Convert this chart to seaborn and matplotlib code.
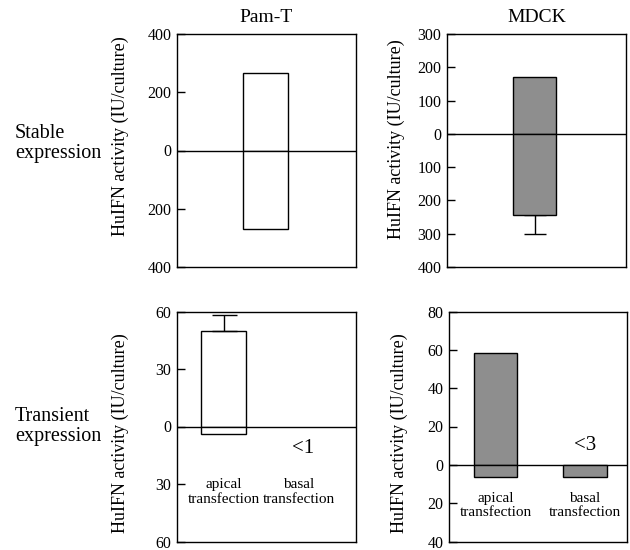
import matplotlib
matplotlib.use("Agg")
import matplotlib.pyplot as plt
import seaborn as sns
import pandas as pd

sns.set_theme(style="white")
plt.rcParams["font.family"] = ["Liberation Serif", "DejaVu Serif"]
plt.rcParams["text.color"] = "black"
plt.rcParams["axes.labelcolor"] = "black"
plt.rcParams["xtick.color"] = "black"
plt.rcParams["ytick.color"] = "black"

# ---------------- data ----------------
cell_lines = ["Pam-T", "MDCK"]
row_labels = ["Stable\nexpression", "Transient\nexpression"]
ylabel = "HuIFN activity (IU/culture)"

# Stable expression: apical secretion (up), basal secretion (down)
stable_category = ["stable"]
stable_apical = [265, 170]
stable_basal = [270, 243]
stable_basal_err = [0, 57]

# Transient expression
transient_categories = ["apical\ntransfection", "basal\ntransfection"]
pamt_apical = [50]            # apical transfection only
pamt_apical_err = [8]
pamt_basal = [4]              # apical transfection only
mdck_apical = [58.5]          # apical transfection only
mdck_basal = [6.5, 6.5]       # both transfections
below_limit = ["<1", "<3"]

stable_ylims = [(-400, 400), (-400, 300)]
stable_ticks = [[-400, -200, 0, 200, 400],
                [-400, -300, -200, -100, 0, 100, 200, 300]]
transient_ylims = [(-60, 60), (-40, 80)]
transient_ticks = [[-60, -30, 0, 30, 60],
                   [-40, -20, 0, 20, 40, 60, 80]]

fills = ["white", "#8e8e8e"]

# ---------------- figure ----------------
fig = plt.figure(figsize=(6.3, 5.5), dpi=100)

pos = {
    (0, 0): [177 / 630, 1 - 267 / 550, 179 / 630, 233 / 550],
    (0, 1): [447 / 630, 1 - 267 / 550, 179 / 630, 233 / 550],
    (1, 0): [177 / 630, 1 - 541.5 / 550, 179 / 630, 230 / 550],
    (1, 1): [449.3 / 630, 1 - 541.5 / 550, 177.7 / 630, 230 / 550],
}
label_coords = {(0, 0): (-0.27, 0.56), (0, 1): (-0.235, 0.55),
                (1, 0): (-0.27, 0.47), (1, 1): (-0.235, 0.47)}


def style_axis(ax, ylim, ticks, key):
    ax.set_ylim(*ylim)
    ax.set_yticks(ticks)
    ax.set_yticklabels([str(abs(t)) for t in ticks])
    ax.set_xticks([])
    ax.set_xlabel("")
    ax.axhline(0, color="black", lw=1.0, zorder=1)
    ax.tick_params(axis="y", direction="in", length=6, width=1.0,
                   labelsize=11.5, pad=4, colors="black", left=True)
    for s in ax.spines.values():
        s.set_visible(True)
        s.set_color("black")
        s.set_linewidth(1.0)
    ax.set_ylabel(ylabel, fontsize=13, color="black")
    ax.yaxis.set_label_coords(*label_coords[key])


# Stable expression row
stable_xlims = [(-0.98, 1.005), (-1.03, 1.07)]
for j in range(2):
    ax = fig.add_axes(pos[(0, j)])
    up = pd.DataFrame({"cat": stable_category, "val": [stable_apical[j]]})
    dn = pd.DataFrame({"cat": stable_category, "val": [-stable_basal[j]]})
    for df in (up, dn):
        sns.barplot(data=df, x="cat", y="val", ax=ax, color=fills[j],
                    saturation=1, edgecolor="black", linewidth=1.0,
                    width=0.5, errorbar=None, zorder=2)
    if stable_basal_err[j] > 0:
        ax.errorbar([0], [-stable_basal[j]],
                    yerr=[[stable_basal_err[j]], [0]], fmt="none",
                    ecolor="black", elinewidth=1.0, capsize=8, capthick=1.0,
                    zorder=1)
    ax.set_xlim(*stable_xlims[j])
    style_axis(ax, stable_ylims[j], stable_ticks[j], (0, j))
    ax.set_title(cell_lines[j], fontsize=14, pad=9, color="black")

# Transient expression row
transient_xlims = [(-0.62, 1.76), (-0.52, 1.474)]
widths = [0.59, 0.49]
ups = [pamt_apical, mdck_apical]
dns = [pamt_basal, mdck_basal]
label_y = [-34.3, -21.3]
limit_pos = [(1.05, -11.3), (1.0, 10.1)]
for j in range(2):
    ax = fig.add_axes(pos[(1, j)])
    up = pd.DataFrame({"cat": transient_categories[:len(ups[j])],
                       "val": ups[j]})
    dn = pd.DataFrame({"cat": transient_categories[:len(dns[j])],
                       "val": [-v for v in dns[j]]})
    for df in (up, dn):
        sns.barplot(data=df, x="cat", y="val", ax=ax, color=fills[j],
                    saturation=1, edgecolor="black", linewidth=1.0,
                    width=widths[j], errorbar=None,
                    order=transient_categories, zorder=2)
    if j == 0:
        ax.errorbar(range(len(pamt_apical)), pamt_apical,
                    yerr=[[0] * len(pamt_apical_err), pamt_apical_err],
                    fmt="none", ecolor="black", elinewidth=1.0,
                    capsize=9, capthick=1.0, zorder=3)
    ax.set_xlim(*transient_xlims[j])
    style_axis(ax, transient_ylims[j], transient_ticks[j], (1, j))
    for i, c in enumerate(transient_categories):
        ax.text(i, label_y[j], c, ha="center", va="center", fontsize=11,
                linespacing=1.15)
    ax.text(limit_pos[j][0], limit_pos[j][1], below_limit[j], ha="center",
            va="center", fontsize=15)

# Row labels
fig.text(15 / 630, 1 - 143.5 / 550, row_labels[0], ha="left", va="center",
         fontsize=14.5, linespacing=1.1)
fig.text(15 / 630, 1 - 426.5 / 550, row_labels[1], ha="left", va="center",
         fontsize=14.5, linespacing=1.1)

fig.savefig("out.png", dpi=100, facecolor="white")
